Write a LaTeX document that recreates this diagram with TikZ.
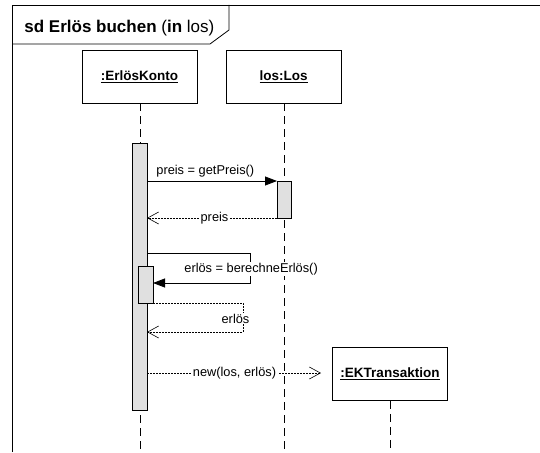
\documentclass[tikz,border=0pt]{standalone}
\usepackage{fontspec}
\setmainfont{Liberation Sans}
\usetikzlibrary{arrows.meta}
\begin{document}
\begin{tikzpicture}[x=1pt,y=-1pt,
  line width=0.8pt,
  obj/.style={draw, fill=white, minimum width=115pt, minimum height=53pt, inner sep=0pt, font=\fontsize{13.5}{15}\selectfont\bfseries},
  life/.style={draw, line width=0.8pt, dash pattern=on 8pt off 5pt},
  act/.style={draw, fill=black!12, line width=0.8pt},
  call/.style={draw, line width=0.8pt, -{Triangle[length=12pt,width=9pt]}},
  ret/.style={draw, line width=0.6pt, dash pattern=on 2pt off 1pt, -{Straight Barb[length=11pt,width=12pt,line width=0.6pt]}},
  lbl/.style={font=\fontsize{12.8}{15}\selectfont, inner sep=1pt}
]
\useasboundingbox (0,0) rectangle (540,452);
\fill[white] (0,0) rectangle (540,452);

% frame and its title tab
\draw (12,452) -- (12,5) -- (545,5);
\draw (12,44) -- (210,44) -- (229,30) -- (229,5);
\node[anchor=base west, inner sep=0pt, font=\fontsize{17}{19}\selectfont] (title) at (24,33)
  {\textbf{sd Erlös buchen} (\textbf{in} los)};

% lifeline heads
\node[obj] (konto) at (139.5,76.5) {\underline{:ErlösKonto}};
\node[obj] (los) at (283.5,76.5) {\underline{los:Los}};
\node[obj] (ek) at (390,374) {\underline{:EKTransaktion}};

% lifelines
\coordinate (kontoEnd) at (140,452);
\coordinate (losEnd) at (284,452);
\coordinate (ekEnd) at (390,452);
\draw[life] (konto.south -| kontoEnd) -- (kontoEnd);
\draw[life] (los.south -| losEnd) -- (losEnd);
\draw[life] (ek.south -| ekEnd) -- (ekEnd);

% activation bars
\draw[act] (132,143) rectangle (147,410);
\draw[act] (277,181) rectangle (291,218);
\draw[act] (138,266) rectangle (153,303);

% getPreis call and its reply
\coordinate (c1s) at (147,181);
\coordinate (c1e) at (277,181);
\draw[call] (c1s) -- (c1e);
\node[lbl, anchor=base west] (l1) at (155,174) {preis = getPreis()};

\coordinate (r1s) at (277,218);
\coordinate (r1e) at (147,218);
\draw[ret] (r1s) -- (r1e);
\node[lbl, fill=white, inner xsep=2pt] (l2) at (214.5,218) {preis};

% self call berechneErlös
\coordinate (c2s) at (147,253);
\coordinate (c2a) at (250,253);
\coordinate (c2b) at (250,283);
\coordinate (c2e) at (153,283);
\draw[call] (c2s) -- (c2a) -- (c2b) -- (c2e);
\node[lbl, anchor=base west, fill=white] (l3) at (183,272) {erlös = berechneErlös()};

% reply of the self call
\coordinate (r2s) at (153,303);
\coordinate (r2a) at (243,303);
\coordinate (r2b) at (243,332);
\coordinate (r2e) at (147,332);
\draw[ret] (r2s) -- (r2a) -- (r2b) -- (r2e);
\node[lbl, anchor=base, fill=white] (l4) at (235.5,323) {erlös};

% creation message
\coordinate (c3s) at (147,373);
\coordinate (c3e) at (321,373);
\draw[ret] (c3s) -- (c3e);
\node[lbl, fill=white, inner xsep=2pt] (l5) at (234.5,373) {new(los, erlös)};
\end{tikzpicture}
\end{document}
